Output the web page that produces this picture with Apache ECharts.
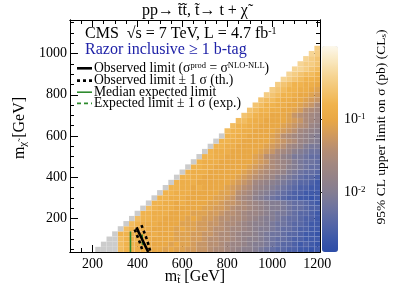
<!DOCTYPE html>
<html><head><meta charset="utf-8">
<script src="https://cdn.jsdelivr.net/npm/echarts@6/dist/echarts.min.js"></script>
<style>html,body{margin:0;padding:0;background:#fff}#c{width:411px;height:297px}</style>
</head><body><div id="c"></div>
<script>
// ---------------- data ----------------
const chiMasses = [50,75,100,125,150,175,200,225,250,275,300,325,350,375,400,425,450,475,500,525,550,575,600,625,650,675,700,725,750,775,800,825,850,875,900,925,950,975,1000,1025];
const rowFirstStop = [225,250,275,300,325,350,375,400,425,450,475,500,525,550,575,600,625,650,675,700,725,750,775,800,825,850,875,900,925,950,975,1000,1025,1050,1075,1100,1125,1150,1175,1200];
// one char per 25 GeV stop bin: log10(limit/pb) = -3 + 0.1*index in levelCodes ; 'x' = grey cell
const levelCodes = '0123456789ABCDEFGHIJKLMNOPQRSTU';
const limitRows = [
 "xxxxNMMLLKKKJKJJIIHHGFFEDCBBA98766554434",
 "xxxNMMLLLKKKJKJJIHHGGFEDDCBAA9876654543",
 "xxNMLMLLKKKKJJJIIHGGFFEDCBBA9877655444",
 "xMMLLLKLKKKJJJIIHHGFFEDCCBA9887665443",
 "xNMLLLKKKKJKJJIIHGGFEEDCBAA987765544",
 "xNMLLLKKKKJJJIIHHGFFEDCBBA988766544",
 "xNMMLLKKKKJKJIIHGGFFEDCBAA98776554",
 "xMMLLLKKKKJJJIIHGGFEDDCBA99876654",
 "xNMLLLKKKKKJJIIHGFFEDCBAA9877655",
 "xMMLLKLKKKKJJIHHGFEDCBAA9877654",
 "xMMLLLKKKKKJJIHFEDBA9876554434",
 "xMMLLLKKKKKJJIGFECBA987655444",
 "xMMLLKLKKKKJIHGFDCBA98765544",
 "xMLLLKKKKKKJIHGEDCBA9876654",
 "xMMLLKKKKKKJIHGFEDBA987665",
 "xMLLLKKKKKKJIHGFEDCA98776",
 "xMMLLKKKKKKJIHGFEDBA9877",
 "xMLLLKKKKKKJIHFEDCA9887",
 "xMMLLKKKKKJIGFECB99877",
 "xMLLLKKKKKJIHFEDBA988",
 "xMMLLKKKKKJIHGEDCA99",
 "xMMLLKKKKKJIHGFDCBA",
 "xMMLLKKKKJIGFEDCBA",
 "NMMLLKKKKJIHGEDCB",
 "NMMLLKKKKJIHGFDC",
 "NNMLLKKKKJIHFED",
 "ONMLLKKKJHGFED",
 "ONMMLLKKJIGFE",
 "ONMMLLKKJIHF",
 "ONNMLLKKJIH",
 "PONMMLKKJI",
 "PONMMLLKJ",
 "PONMMLLK",
 "QPONMML",
 "QPONNM",
 "QQPON",
 "QPPO",
 "QPO",
 "QP",
 "P"
];
// exclusion contours [m_stop, m_chi]
const obsLimit     = [[396,157],[405,135],[414,115],[424,92],[435,67],[448,37.5]];
const obsTheoryUp  = [[418,168],[426,145],[435,120],[443,95],[450,70],[458,37.5]];
const obsTheoryDn  = [[388,147],[396,125],[404,102],[412,80],[418,60],[424,37.5]];
const expMedian    = [[369,137],[369,37.5]];
const expUp        = [[421,122],[423,72]];
// ticks
const xMajor = [200,400,600,800,1000,1200];
const xMinor = [150,250,300,350,450,500,550,650,700,750,850,900,950,1050,1100,1150];
const yMajor = [200,400,600,800,1000];
const yMinor = [50,100,150,250,300,350,450,500,550,650,700,750,850,900,950,1050,1100,1150];
const cbMajor = [0.01, 0.1];
const cbMinor = [0.002,0.003,0.004,0.005,0.006,0.007,0.008,0.009,0.02,0.03,0.04,0.05,0.06,0.07,0.08,0.09,0.2,0.3,0.4,0.5,0.6,0.7,0.8,0.9];
const cbMinLog = -2.82, cbMaxLog = 0;
const legendLabels = [
  'Observed limit (σ{sp|prod} = σ{sp|NLO-NLL})',
  'Observed limit ± 1 σ (th.)',
  'Median expected limit',
  'Expected limit ± 1 σ (exp.)'
];

// ---------------- build ----------------
const cells = [], greyCells = [];
chiMasses.forEach((mchi, r) => {
  const row = limitRows[r];
  for (let i = 0; i < row.length; i++) {
    const mstop = rowFirstStop[r] + i * 25;
    if (mstop > 1200) break;
    const c = row[i];
    if (c === 'x') greyCells.push([mstop, mchi]);
    else cells.push([mstop, mchi, -3 + levelCodes.indexOf(c) * 0.1]);
  }
});

const FONT = 'Liberation Serif';
const palette = ['#2c4ca8','#3e59a9','#5767a6','#6d73a0','#837d93','#938288','#a38880','#b78e72','#d29a5c','#e9a845','#f0b34c','#f3c470','#f6d594','#f9e8c0','#fdf8ec'];

function cellRender(fill) {
  return function (params, api) {
    const x = api.value(0), y = api.value(1);
    const p0 = api.coord([x - 12.5, y + 12.5]);
    const p1 = api.coord([x + 12.5, y - 12.5]);
    const cs = params.coordSys;
    const rect = echarts.graphic.clipRectByRect(
      {x: p0[0], y: p0[1], width: p1[0] - p0[0], height: p1[1] - p0[1]},
      {x: cs.x, y: cs.y, width: cs.width, height: cs.height});
    if (!rect) return;
    return {type: 'rect', shape: rect,
      style: {fill: fill || api.visual('color'), stroke: 'rgba(255,255,255,0.07)', lineWidth: 0.5}};
  };
}

function mkAxis(position, min, max, ticks, len, label) {
  return {
    type: 'value', gridIndex: 0, position, min, max,
    axisLine: {show: true, onZero: false, lineStyle: {color: '#000', width: 1}},
    axisTick: {show: true, inside: true, length: len, customValues: ticks, lineStyle: {color: '#000', width: 1}},
    axisLabel: label ? Object.assign({customValues: ticks, fontFamily: FONT, fontSize: 14, color: '#000', formatter: v => String(v)}, label) : {show: false},
    splitLine: {show: false}
  };
}

const subRich = {
  m: {fontFamily: FONT, fontSize: 16, color: '#000', lineHeight: 18},
  s: {fontFamily: FONT, fontSize: 11, color: '#000', lineHeight: 11, verticalAlign: 'bottom'}
};

// manual legend (line sample + text)
const legendY = [68.3, 80.6, 92.2, 103.4];
const legendStyles = [
  {stroke: '#000', lineWidth: 2.6},
  {stroke: '#000', lineWidth: 2.6, lineDash: [3, 3]},
  {stroke: '#2e8b2e', lineWidth: 1.6},
  {stroke: '#2e8b2e', lineWidth: 1.6, lineDash: [4, 3]}
];
const legendGraphics = [];
legendLabels.forEach((t, i) => {
  legendGraphics.push({type: 'line', z: 10, shape: {x1: 77, y1: legendY[i], x2: 92, y2: legendY[i]}, style: legendStyles[i]});
  legendGraphics.push({type: 'text', z: 10, x: 94, y: legendY[i], style: {text: t, fontFamily: FONT, fontSize: 13.6, fill: '#000', align: 'left', verticalAlign: 'middle',
    rich: {sp: {fontFamily: FONT, fontSize: 8.5, verticalAlign: 'top', lineHeight: 9, fill: '#000'}}}});
});

const option = {
  animation: false,
  backgroundColor: '#fff',
  grid: [
    {left: 70, right: 91, top: 20, bottom: 45},
    {left: 322, top: 46, width: 16, height: 206}
  ],
  xAxis: [
    mkAxis('bottom', 100, 1212.5, xMajor, 7, {margin: 5}),
    mkAxis('bottom', 100, 1212.5, xMinor, 4, null),
    mkAxis('top', 100, 1212.5, xMajor, 7, null),
    mkAxis('top', 100, 1212.5, xMinor, 4, null),
    {type: 'value', gridIndex: 1, min: 0, max: 1, show: false}
  ],
  yAxis: [
    mkAxis('left', 37.5, 1162.5, yMajor, 8, {margin: 3}),
    mkAxis('left', 37.5, 1162.5, yMinor, 4, null),
    mkAxis('right', 37.5, 1162.5, yMajor, 8, null),
    mkAxis('right', 37.5, 1162.5, yMinor, 4, null),
    {type: 'value', gridIndex: 1, position: 'right', min: cbMinLog, max: cbMaxLog,
      axisLine: {show: false},
      axisTick: {show: true, inside: true, length: 8, customValues: cbMajor.map(Math.log10), lineStyle: {color: '#222'}},
      axisLabel: {customValues: cbMajor.map(Math.log10), margin: 6, fontFamily: FONT, fontSize: 14, color: '#000',
        formatter: v => '10{s|' + Math.round(v) + '}',
        rich: {s: {fontFamily: FONT, fontSize: 9, verticalAlign: 'top', lineHeight: 9, color: '#000'}}},
      splitLine: {show: false}},
    {type: 'value', gridIndex: 1, position: 'right', min: cbMinLog, max: cbMaxLog,
      axisLine: {show: false},
      axisTick: {show: true, inside: true, length: 4, customValues: cbMinor.map(Math.log10), lineStyle: {color: '#222'}},
      axisLabel: {show: false}, splitLine: {show: false}}
  ],
  visualMap: [{
    type: 'continuous', seriesIndex: 0, dimension: 2, min: cbMinLog, max: cbMaxLog,
    inRange: {color: palette}, show: true, orient: 'vertical',
    left: 322, top: 46, itemWidth: 16, itemHeight: 206, padding: 0,
    calculable: false, text: null, hoverLink: false
  }],
  series: [
    {type: 'custom', name: 'limit', coordinateSystem: 'cartesian2d', renderItem: cellRender(null),
      data: cells, encode: {x: 0, y: 1}, clip: true, silent: true},
    {type: 'custom', name: 'grey', coordinateSystem: 'cartesian2d', renderItem: cellRender('#cccccc'),
      data: greyCells, encode: {x: 0, y: 1}, clip: true, silent: true},
    {type: 'line', name: 'obs', data: obsLimit, symbol: 'none', lineStyle: {color: '#000', width: 2.6}, z: 5},
    {type: 'line', name: 'thUp', data: obsTheoryUp, symbol: 'none', lineStyle: {color: '#000', width: 2.6, type: [3, 3]}, z: 5},
    {type: 'line', name: 'thDn', data: obsTheoryDn, symbol: 'none', lineStyle: {color: '#000', width: 2.6, type: [3, 3]}, z: 5},
    {type: 'line', name: 'exp', data: expMedian, symbol: 'none', lineStyle: {color: '#2e8b2e', width: 1.6}, z: 4},
    {type: 'line', name: 'expUp', data: expUp, symbol: 'none', lineStyle: {color: '#2e8b2e', width: 1.6, type: [4, 3]}, z: 4}
  ],
  graphic: [
    {type: 'text', x: 195, y: 11, style: {text: 'pp\u2192 t\u0303t\u0303, t\u0303\u2192 t + \u03c7\u0303', fontFamily: FONT, fontSize: 16, fill: '#000', align: 'center', verticalAlign: 'middle'}},
    {type: 'text', x: 85, y: 34, z: 10, style: {text: 'CMS  \u221as = 7 TeV, L = 4.7 fb{sp|-1}', fontFamily: FONT, fontSize: 16, fill: '#000', align: 'left', verticalAlign: 'middle',
      rich: {sp: {fontFamily: FONT, fontSize: 10, verticalAlign: 'top', lineHeight: 10, fill: '#000'}}}},
    {type: 'text', x: 85, y: 49.5, z: 10, style: {text: 'Razor inclusive \u2265 1 b-tag', fontFamily: FONT, fontSize: 16, fill: '#1f22a8', align: 'left', verticalAlign: 'middle'}},
    {type: 'text', x: 195, y: 277, style: {text: '{m|m}{s|t\u0303}{m| [GeV]}', rich: subRich, align: 'center', verticalAlign: 'middle'}},
    {type: 'text', x: 20, y: 128, rotation: Math.PI / 2, style: {text: '{m|m}{s|\u03c7\u0303}{m| [GeV]}', rich: subRich, align: 'center', verticalAlign: 'middle'}},
    {type: 'text', x: 381, y: 127, rotation: Math.PI / 2, style: {text: '{m|95% CL upper limit on σ (pb) (CL}{s|s}{m|)}',
      rich: {m: {fontFamily: FONT, fontSize: 13.5, fill: '#000', lineHeight: 15}, s: {fontFamily: FONT, fontSize: 9, fill: '#000', lineHeight: 9, verticalAlign: 'bottom'}},
      align: 'center', verticalAlign: 'middle'}}
  ].concat(legendGraphics)
};

const chart = echarts.init(document.getElementById('c'), null, {renderer: 'canvas', width: 411, height: 297});
chart.setOption(option);
</script>
</body></html>
